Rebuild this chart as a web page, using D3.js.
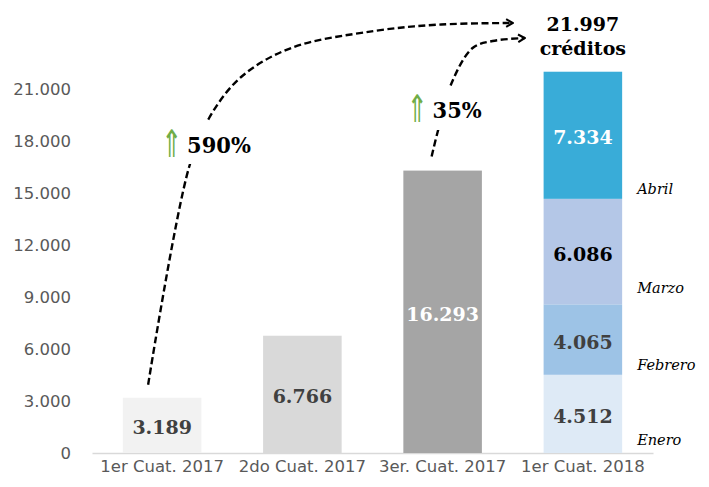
<!DOCTYPE html>
<html>
<head>
<meta charset="utf-8">
<script src="https://cdn.jsdelivr.net/npm/d3@7"></script>
<style>
  body { margin: 0; background: #fff; }
</style>
</head>
<body>
<div class="canvas"></div>
<script>
// chart data
const categories = ['1er Cuat. 2017', '2do Cuat. 2017', '3er. Cuat. 2017', '1er Cuat. 2018'];
const quarterValues = [3189, 6766, 16293];
const months = ['Enero', 'Febrero', 'Marzo', 'Abril'];
const monthValues = [4512, 4065, 6086, 7334];
const yTicks = [0, 3000, 6000, 9000, 12000, 15000, 18000, 21000];
const growthLabels = ['590%', '35%'];
const totalUnit = 'créditos';

const quarterColors = ['#f2f2f2', '#d9d9d9', '#a5a5a5'];
const quarterText = ['#404040', '#404040', '#ffffff'];
const monthColors = ['#deeaf6', '#9dc3e6', '#b4c7e7', '#39acd8'];
const monthText = ['#404040', '#404040', '#000000', '#ffffff'];

const W = 709, H = 487;
const sans = 'DejaVu Sans, Verdana, sans-serif';
const serif = 'DejaVu Serif, Cambria, serif';

const fmt = d3.formatLocale({decimal: ',', thousands: '.', grouping: [3], currency: ['$', '']}).format(',d');

const svg = d3.select('.canvas').append('svg')
    .attr('width', W)
    .attr('height', H);

// open arrow head for the dashed curves
svg.append('defs').append('marker')
    .attr('id', 'arrow')
    .attr('viewBox', '0 0 10 10')
    .attr('refX', 8.5)
    .attr('refY', 5)
    .attr('markerWidth', 4)
    .attr('markerHeight', 4)
    .attr('markerUnits', 'strokeWidth')
    .attr('orient', 'auto')
    .append('path')
    .attr('d', 'M1.5,1 L8.5,5 L1.5,9')
    .attr('fill', 'none')
    .attr('stroke', '#000')
    .attr('stroke-width', 2.2);

const x = d3.scaleBand()
    .domain(categories)
    .range([92, 653])
    .paddingInner(0.44)
    .paddingOuter(0.22);

const y = d3.scaleLinear()
    .domain([0, 21000])
    .range([453, 89]);

// y axis: labels only
const yAxis = svg.append('g')
    .attr('transform', 'translate(92,0)')
    .call(d3.axisLeft(y).tickValues(yTicks).tickFormat(fmt).tickSize(0).tickPadding(21));
yAxis.select('.domain').remove();
yAxis.selectAll('text')
    .attr('font-family', sans)
    .attr('font-size', 16.5)
    .attr('fill', '#595959');

// x axis
const xAxis = svg.append('g')
    .attr('transform', 'translate(0,' + y(0) + ')')
    .call(d3.axisBottom(x).tickSize(0).tickPadding(7));
xAxis.select('.domain').attr('stroke', '#d9d9d9').attr('stroke-width', 1.3);
xAxis.selectAll('text')
    .attr('font-family', sans)
    .attr('font-size', 16.5)
    .attr('fill', '#595959');

// quarter bars
const qData = quarterValues.map((v, i) => ({cat: categories[i], v: v, i: i}));
svg.selectAll('rect.q')
    .data(qData)
    .enter().append('rect')
    .attr('class', 'q')
    .attr('x', d => x(d.cat))
    .attr('width', x.bandwidth())
    .attr('y', d => y(d.v))
    .attr('height', d => y(0) - y(d.v))
    .attr('fill', d => quarterColors[d.i]);

svg.selectAll('text.q')
    .data(qData)
    .enter().append('text')
    .attr('class', 'q')
    .attr('x', d => x(d.cat) + x.bandwidth() / 2)
    .attr('y', d => (y(d.v) + y(0)) / 2 + 2)
    .attr('text-anchor', 'middle')
    .attr('dominant-baseline', 'central')
    .attr('font-family', serif)
    .attr('font-weight', 'bold')
    .attr('font-size', 19)
    .attr('fill', d => quarterText[d.i])
    .text(d => fmt(d.v));

// stacked month bar
let acc = 0;
const mData = monthValues.map((v, i) => {
    const d = {name: months[i], v: v, y0: acc, y1: acc + v, i: i};
    acc += v;
    return d;
});
const lastCat = categories[3];

svg.selectAll('rect.m')
    .data(mData)
    .enter().append('rect')
    .attr('class', 'm')
    .attr('x', x(lastCat))
    .attr('width', x.bandwidth())
    .attr('y', d => y(d.y1))
    .attr('height', d => y(d.y0) - y(d.y1))
    .attr('fill', d => monthColors[d.i]);

svg.selectAll('text.mv')
    .data(mData)
    .enter().append('text')
    .attr('class', 'mv')
    .attr('x', x(lastCat) + x.bandwidth() / 2)
    .attr('y', d => (y(d.y0) + y(d.y1)) / 2 + 2)
    .attr('text-anchor', 'middle')
    .attr('dominant-baseline', 'central')
    .attr('font-family', serif)
    .attr('font-weight', 'bold')
    .attr('font-size', 19)
    .attr('fill', d => monthText[d.i])
    .text(d => fmt(d.v));

// month names beside the bar
const nameShift = [8, 5, 11, 5];
svg.selectAll('text.mn')
    .data(mData)
    .enter().append('text')
    .attr('class', 'mn')
    .attr('x', x(lastCat) + x.bandwidth() + 15)
    .attr('y', d => y(d.y0) - nameShift[d.i])
    .attr('font-family', serif)
    .attr('font-style', 'italic')
    .attr('font-size', 14.5)
    .attr('fill', '#000')
    .text(d => d.name);

// total on top
const total = d3.sum(monthValues);
const cx4 = x(lastCat) + x.bandwidth() / 2;
svg.append('text')
    .attr('x', cx4)
    .attr('y', 31)
    .attr('text-anchor', 'middle')
    .attr('font-family', serif)
    .attr('font-weight', 'bold')
    .attr('font-size', 19)
    .text(fmt(total));
svg.append('text')
    .attr('x', cx4)
    .attr('y', 55)
    .attr('text-anchor', 'middle')
    .attr('font-family', serif)
    .attr('font-weight', 'bold')
    .attr('font-size', 19)
    .text(totalUnit);

// dashed growth arrows
const line = d3.line().curve(d3.curveCatmullRom.alpha(0.5));
const cx1 = x(categories[0]) + x.bandwidth() / 2;
const cx3 = x(categories[2]) + x.bandwidth() / 2;
const arc1 = [[cx1 - 14, y(quarterValues[0]) - 13], [cx1 + 27, 167], [cx1 + 47, 118], [cx1 + 79, 77],
              [cx1 + 129, 48], [cx1 + 212, 31], [cx1 + 279, 24.5], [cx4 - 70, 23]];
const arc2 = [[cx3 - 11, y(quarterValues[2]) - 14], [cx3 - 5, 132], [cx3 + 9, 83], [cx3 + 30, 48],
              [cx3 + 50, 41], [cx4 - 58, 38]];

[arc1, arc2].forEach(pts => {
    svg.append('path')
        .attr('d', line(pts))
        .attr('fill', 'none')
        .attr('stroke', '#000')
        .attr('stroke-width', 2.4)
        .attr('stroke-dasharray', '7,3.5')
        .attr('marker-end', 'url(#arrow)');
});

// white gaps behind growth labels
const gaps = [[158, 121, 98, 43], [400, 86, 90, 44]];
gaps.forEach(g => {
    svg.append('rect')
        .attr('x', g[0]).attr('y', g[1])
        .attr('width', g[2]).attr('height', g[3])
        .attr('fill', '#fff');
});

const growthPos = [[cx1, 153], [cx3 - 35, 118]];
growthLabels.forEach((t, i) => {
    const g = svg.append('g').attr('transform', 'translate(' + growthPos[i][0] + ',' + growthPos[i][1] + ')');
    g.append('text')
        .attr('transform', 'translate(-1,4) scale(1.25,1.9)')
        .attr('font-family', sans)
        .attr('font-size', 20)
        .attr('fill', '#70ad47')
        .text('\u21D1');
    g.append('text')
        .attr('x', 25)
        .attr('y', 0)
        .attr('font-family', serif)
        .attr('font-weight', 'bold')
        .attr('font-size', 21)
        .attr('transform', 'scale(1,1.1)')
        .attr('fill', '#000')
        .text(t);
});
</script>
</body>
</html>
